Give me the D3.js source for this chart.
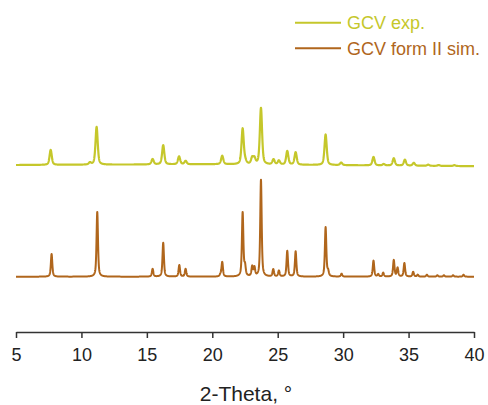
<!DOCTYPE html>
<html>
<head>
<meta charset="utf-8">
<script src="https://cdn.jsdelivr.net/npm/d3@7/dist/d3.min.js"></script>
<style>
  html, body { margin: 0; padding: 0; background: #fff; }
  svg { display: block; }
  text { font-family: "Liberation Sans", Arial, sans-serif; }
</style>
</head>
<body>
<svg id="chart" width="488" height="405"></svg>
<script>
// Diffraction peak lists: 2θ position (°) and relative intensity (strongest = 100)
const expPos = [7.65, 10.65, 11.16, 15.44, 16.25, 17.46, 17.96, 20.76, 22.32, 22.52, 23.05, 23.22,
                23.72, 24.68, 25.09, 25.73, 26.37, 28.66, 29.85, 32.32, 33.1, 33.87, 34.72, 35.4,
                36.5, 37.3, 38.5];
const expInt = [26.5, 3.5, 67, 9.5, 34, 14, 6, 15, 63, 5, 11, 10,
                100, 9, 7, 24, 22, 54, 4.5, 15, 2.5, 13, 10.5, 5,
                2, 1.5, 1.5];

const simPos = [7.72, 11.21, 15.44, 16.25, 17.48, 17.96, 20.62, 20.76, 22.32, 22.5, 23.05, 23.22,
                23.72, 24.66, 25.09, 25.73, 26.37, 28.66, 28.85, 29.88, 32.32, 32.68, 33.06, 33.87,
                34.16, 34.68, 35.35, 35.7, 36.4, 37.2, 37.7, 38.4, 39.2];
const simInt = [23.5, 67, 8, 35, 12, 8, 2, 15, 66, 10, 10, 9,
                100, 7.5, 6, 26.5, 26, 51, 5, 3, 16.5, 2.5, 4, 17,
                9, 14, 5, 2, 2, 1.5, 1.5, 1.5, 2];

// Experimental baseline drift (intensity units) at a few 2θ positions
const expBaseX = [5, 20, 40];
const expBaseY = [0, 0.8, -1.2];

const xTicks = [5, 10, 15, 20, 25, 30, 35, 40];
const legendLabels = ["GCV exp.", "GCV form II sim."];

const series = [
  { name: legendLabels[0], pos: expPos, inten: expInt, fwhm: 0.2, eta: 0.5, scale: 0.584, offset: 115.5,
    base: d3.scaleLinear().domain(expBaseX).range(expBaseY), color: "#c5c72b", width: 2.2 },
  { name: legendLabels[1], pos: simPos, inten: simInt, fwhm: 0.13, eta: 0.6, scale: 1, offset: 0,
    base: () => 0, color: "#b0661c", width: 2 }
];

const svg = d3.select("#chart");
const x = d3.scaleLinear().domain([5, 40]).range([16, 474]);
const y = d3.scaleLinear().domain([0, 100]).range([276.7, 180]);
const axisY = 332;

// pseudo-Voigt profile
function profile(t, c, w, eta) {
  const d = (t - c) / (w / 2);
  const lor = 1 / (1 + d * d);
  const gau = Math.exp(-Math.LN2 * d * d);
  return eta * lor + (1 - eta) * gau;
}

const grid = d3.range(5, 40.0001, 0.01);
const line = d3.line().x(d => x(d[0])).y(d => y(d[1])).curve(d3.curveLinear);

series.forEach(s => {
  const pts = grid.map(t => {
    let v = 0;
    for (let i = 0; i < s.pos.length; i++) v += s.inten[i] * profile(t, s.pos[i], s.fwhm, s.eta);
    return [t, s.offset + s.base(t) + s.scale * v];
  });
  svg.append("path")
    .attr("d", line(pts))
    .attr("fill", "none")
    .attr("stroke", s.color)
    .attr("stroke-width", s.width)
    .attr("stroke-linejoin", "round");
});

// x axis
const axis = svg.append("g")
  .attr("transform", `translate(0,${axisY})`)
  .call(d3.axisBottom(x).tickValues(xTicks).tickSize(6).tickPadding(10).tickSizeOuter(0));
axis.select(".domain").attr("stroke", "#333").attr("stroke-width", 1.5);
axis.selectAll(".tick line").attr("stroke", "#333").attr("stroke-width", 1.5);
axis.selectAll(".tick text").attr("font-size", 18).attr("fill", "#222")
  .attr("font-family", "Liberation Sans, Arial, sans-serif");

svg.append("text")
  .attr("x", 246).attr("y", 401)
  .attr("text-anchor", "middle")
  .attr("font-size", 21).attr("fill", "#222")
  .text("2-Theta, °");

// legend
const legend = svg.append("g");
series.forEach((s, i) => {
  const ly = 22.7 + i * 25.6;
  legend.append("line")
    .attr("x1", 295).attr("x2", 341).attr("y1", ly).attr("y2", ly)
    .attr("stroke", s.color).attr("stroke-width", 2);
  legend.append("text")
    .attr("x", 347).attr("y", ly + 6.5)
    .attr("font-size", 18).attr("fill", s.color)
    .text(s.name);
});
</script>
</body>
</html>
